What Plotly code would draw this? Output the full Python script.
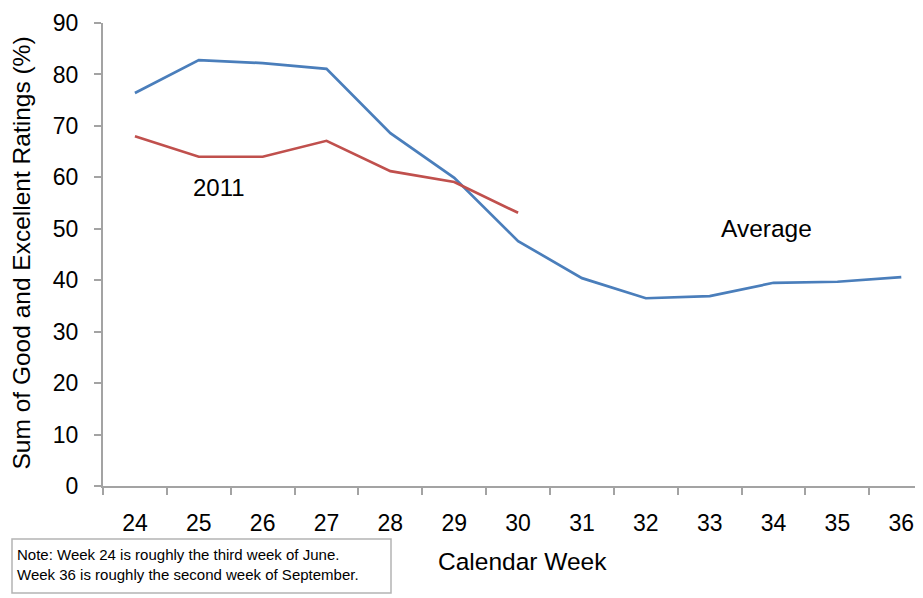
import plotly.graph_objects as go

weeks = ["24", "25", "26", "27", "28", "29", "30", "31", "32", "33", "34", "35", "36"]
average = [76.4, 82.8, 82.2, 81.1, 68.6, 59.9, 47.6, 40.4, 36.5, 36.9, 39.5, 39.7, 40.6]
weeks_2011 = ["24", "25", "26", "27", "28", "29", "30"]
values_2011 = [68.0, 64.0, 64.0, 67.1, 61.2, 59.1, 53.1]
y_ticks = [0, 10, 20, 30, 40, 50, 60, 70, 80, 90]

FONT = "Liberation Sans, Arial, sans-serif"
AXIS_COLOR = "#a3a3a3"

# page body has an 8px margin, so the figure is 8px smaller
OFF = 8
W, H = 923 - OFF, 598 - OFF
L, T = 103 - OFF, 23 - OFF
B = H - (486 - OFF)
R = 0
pw, ph = W - L - R, H - T - B


def px(x):
    return (x - OFF - L) / pw


def py(y):
    return (H - B - (y - OFF)) / ph


fig = go.Figure()
fig.add_trace(go.Scatter(x=weeks, y=average, mode="lines",
                         line=dict(color="#4a7ebb", width=2.7), name="Average"))
fig.add_trace(go.Scatter(x=weeks_2011, y=values_2011, mode="lines",
                         line=dict(color="#c0504d", width=2.7), name="2011"))

fig.update_layout(
    width=W, height=H,
    margin=dict(l=L, r=R, t=T, b=B, pad=0),
    paper_bgcolor="white", plot_bgcolor="white",
    showlegend=False,
    font=dict(family=FONT, color="black", size=23),
    xaxis=dict(type="category", categoryorder="array", categoryarray=weeks,
               range=[-0.5, 12.34], showgrid=False, zeroline=False,
               showline=True, linecolor=AXIS_COLOR, linewidth=2,
               ticks="outside", tickson="boundaries", ticklen=7,
               tickcolor=AXIS_COLOR, tickwidth=2,
               tickfont=dict(size=23, family=FONT), ticklabelstandoff=15),
    yaxis=dict(range=[0, 90], tickvals=y_ticks, showgrid=False, zeroline=False,
               showline=True, linecolor=AXIS_COLOR, linewidth=2,
               ticks="outside", ticklen=7, tickcolor=AXIS_COLOR, tickwidth=2,
               tickfont=dict(size=23, family=FONT), ticklabelstandoff=11),
)

annotations = [
    dict(text="Calendar Week", x=px(522.5), y=py(561), xref="paper", yref="paper",
         xanchor="center", yanchor="middle",
         showarrow=False, font=dict(size=24.5, family=FONT)),
    dict(text="Sum of Good and Excellent Ratings (%)", x=px(21), y=py(253.5),
         xref="paper", yref="paper", textangle=-90, showarrow=False,
         xanchor="center", yanchor="middle",
         font=dict(size=24.5, family=FONT)),
    dict(text="2011", x=1.31, y=58.0, xref="x", yref="y", showarrow=False,
         xanchor="center", yanchor="middle",
         font=dict(size=24, family=FONT)),
    dict(text="Average", x=9.89, y=50.0, xref="x", yref="y", showarrow=False,
         xanchor="center", yanchor="middle",
         font=dict(size=24.5, family=FONT)),
    dict(text="Note: Week 24 is roughly the third week of June.<br>Week 36 is roughly the second week of September.",
         x=px(15), y=py(564), xref="paper", yref="paper", xanchor="left",
         yanchor="middle", align="left", showarrow=False,
         font=dict(size=15, family=FONT)),
]
fig.update_layout(annotations=annotations)

fig.add_shape(type="rect", xref="paper", yref="paper",
              x0=px(12), x1=px(391), y0=py(593), y1=py(539),
              line=dict(color="#b4b4b4", width=1.5), fillcolor="rgba(0,0,0,0)")

fig.write_html("out.html")
